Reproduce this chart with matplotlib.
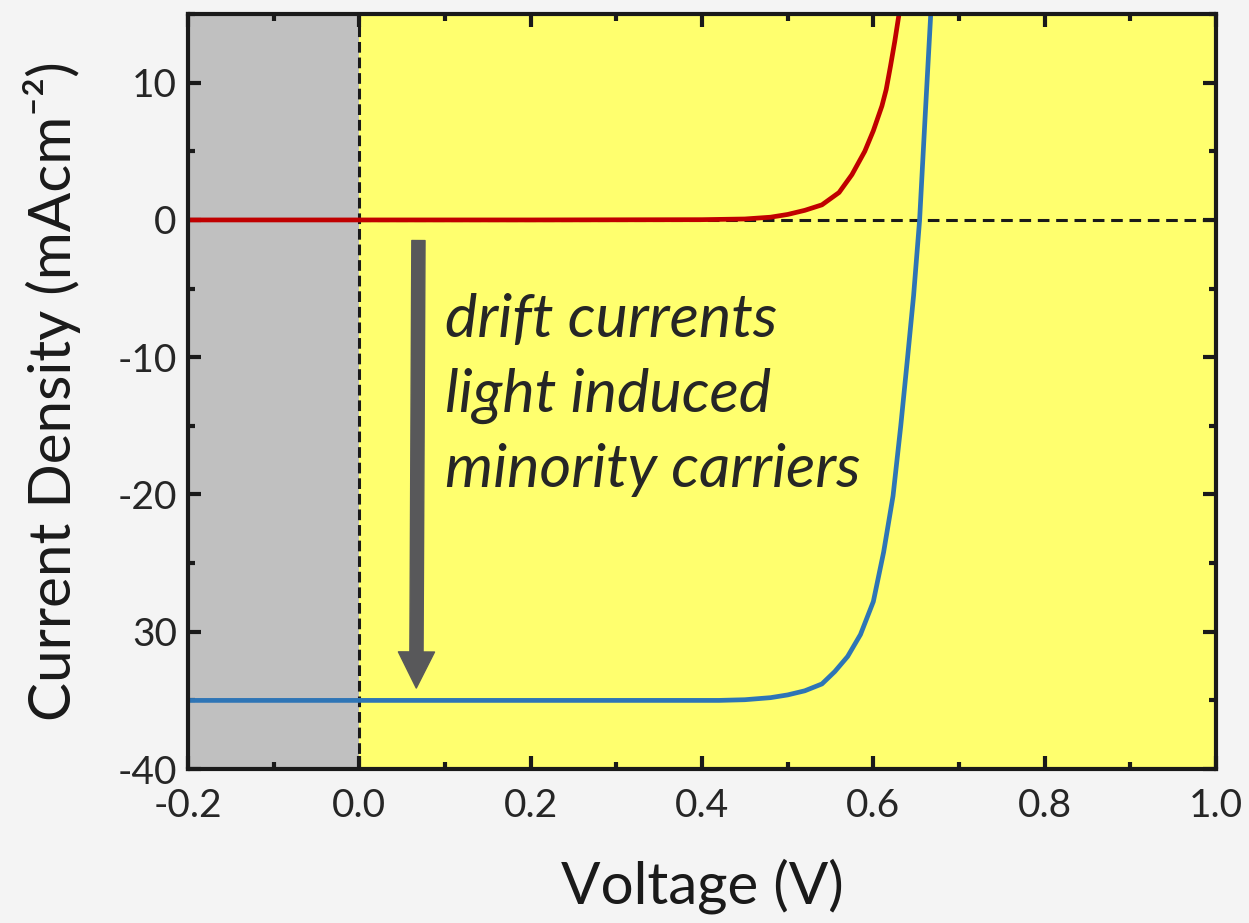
import numpy as np
import matplotlib
matplotlib.use('Agg')
import matplotlib.pyplot as plt
from matplotlib.ticker import MultipleLocator, FixedLocator, FixedFormatter

plt.rcParams['font.family'] = ['Lato', 'DejaVu Sans']
plt.rcParams['axes.unicode_minus'] = False

# dark J-V curve (red) and illuminated J-V curve (blue)
v_dark = [-0.2, 0.0, 0.2, 0.40, 0.45, 0.48, 0.50, 0.52, 0.54, 0.56, 0.575,
          0.59, 0.60, 0.61, 0.615, 0.62, 0.625, 0.63]
j_dark = [0.0, 0.0, 0.0, 0.02, 0.07, 0.2, 0.4, 0.7, 1.1, 2.0, 3.3,
          5.0, 6.5, 8.3, 9.5, 11.2, 13.0, 15.0]
v_light = [-0.2, 0.0, 0.2, 0.42, 0.45, 0.48, 0.50, 0.52, 0.54, 0.555, 0.57, 0.585, 0.60,
           0.612, 0.623, 0.632, 0.64, 0.647, 0.654, 0.66, 0.667]
j_light = [-35.0, -35.0, -35.0, -35.0, -34.95, -34.8, -34.6, -34.3, -33.8, -32.9, -31.8, -30.2, -27.8,
           -24.2, -20.1, -15.0, -10.0, -5.5, 0.0, 7.0, 15.0]

x_ticks = [-0.2, 0.0, 0.2, 0.4, 0.6, 0.8, 1.0]
x_tick_labels = ['-0.2', '0.0', '0.2', '0.4', '0.6', '0.8', '1.0']
y_ticks = [-40, -30, -20, -10, 0, 10]
y_tick_labels = ['-40', '30', '-20', '-10', '0', '10']

note_lines = ['drift currents', 'light induced', 'minority carriers']

fig = plt.figure(figsize=(12.49, 9.23), dpi=100, facecolor='#f4f4f4')
ax = fig.add_axes([0.1505, 0.1668, 0.8231, 0.818])
ax.set_xlim(-0.2, 1.0)
ax.set_ylim(-40, 15)

# shaded regions: reverse bias (grey) and forward bias (yellow)
ax.axvspan(-0.2, 0.0, color='#c0c0c0', lw=0, zorder=0)
ax.axvspan(0.0, 1.0, color='#ffff6e', lw=0, zorder=0)

ax.axvline(0.0, color='#1a1a1a', lw=2.2, ls=(0, (3.5, 1.6)), zorder=1)
ax.plot([0.0, 1.0], [0.0, 0.0], color='#1a1a1a', lw=2.2, ls=(0, (3.8, 2.2)), zorder=1)

ax.plot(v_dark, j_dark, color='#c00000', lw=3.4, zorder=3, solid_joinstyle='round')
ax.plot(v_light, j_light, color='#2e75b6', lw=3.4, zorder=3, solid_joinstyle='round')

ax.annotate('', xy=(0.0665, -34.1), xytext=(0.069, -1.5),
            arrowprops=dict(arrowstyle='simple,head_width=2.6,head_length=2.6,tail_width=0.95',
                            color='#58585a', shrinkA=0, shrinkB=0, mutation_scale=10),
            zorder=2)

for i, s in enumerate(note_lines):
    ax.text(0.1, -8.5 - 5.47 * i, s, fontsize=44, style='italic', color='#262626',
            ha='left', va='baseline', zorder=4)

ax.xaxis.set_major_locator(FixedLocator(x_ticks))
ax.xaxis.set_major_formatter(FixedFormatter(x_tick_labels))
ax.xaxis.set_minor_locator(MultipleLocator(0.1))
ax.yaxis.set_major_locator(FixedLocator(y_ticks))
ax.yaxis.set_major_formatter(FixedFormatter(y_tick_labels))
ax.yaxis.set_minor_locator(MultipleLocator(5))

for sp in ax.spines.values():
    sp.set_linewidth(3.0)
    sp.set_color('#1a1a1a')
    sp.set_zorder(5)

ax.tick_params(which='both', direction='in', top=True, right=True,
               width=3.0, color='#1a1a1a', labelsize=28, labelcolor='#262626')
ax.tick_params(which='major', length=9.5)
ax.tick_params(which='minor', length=5)
ax.tick_params(axis='x', which='major', pad=14)
ax.tick_params(axis='y', which='major', pad=8)

ax.set_xlabel('Voltage (V)', fontsize=42, color='#1a1a1a', labelpad=24)
ax.set_ylabel('Current Density (mAcm⁻²)', fontsize=42,
              color='#1a1a1a', labelpad=26)

fig.savefig('out.png', dpi=100, facecolor=fig.get_facecolor())
